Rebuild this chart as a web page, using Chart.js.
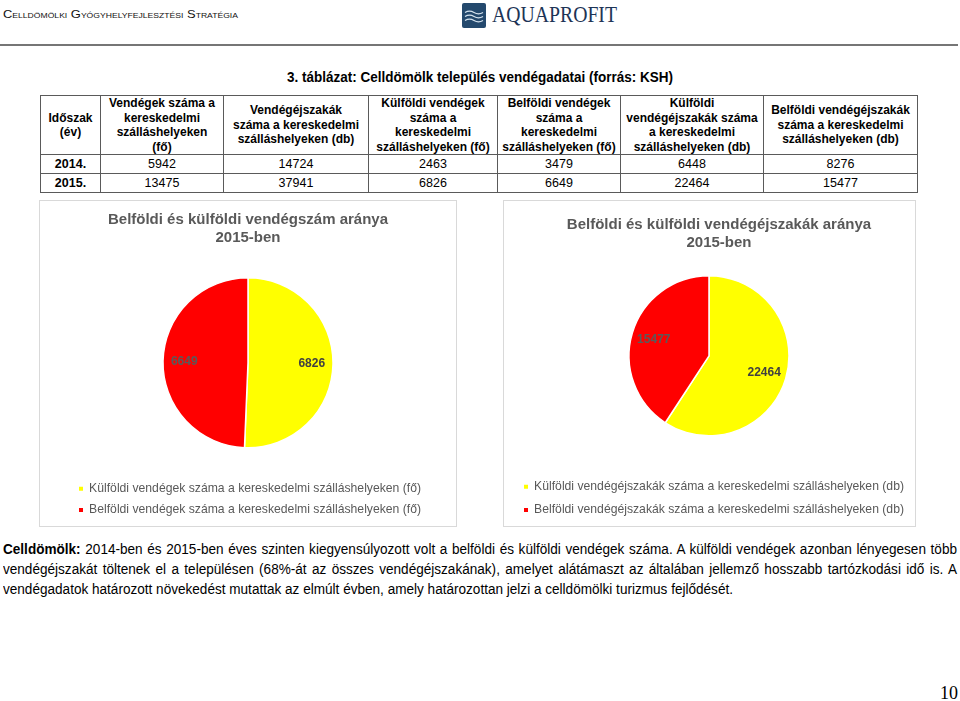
<!DOCTYPE html>
<html lang="hu">
<head>
<meta charset="utf-8">
<title>Celldömölk vendégadatai</title>
<script src="https://cdn.jsdelivr.net/npm/chart.js@4.4.1/dist/chart.umd.min.js"></script>
<style>
html,body{margin:0;padding:0;background:#fff}
body{width:960px;height:701px;position:relative;overflow:hidden;font-family:"Liberation Sans",Arial,sans-serif;color:#000}
.abs{position:absolute;white-space:nowrap;transform-origin:0 50%}
#hdr{left:3px;top:7px;font-size:10.5px;font-variant:small-caps;line-height:14px;color:#111}
#logo{position:absolute;left:462px;top:3px}
#brand{left:492px;top:2px;font-family:"Liberation Serif",serif;font-size:23px;line-height:26px;color:#1d3456}
#rule{position:absolute;left:0;top:44px;width:958px;height:2px;background:#767676}
#ttl{left:287px;top:68px;font-weight:bold;font-size:15px;line-height:18px}
#tbl{position:absolute;left:40px;top:95px;border-collapse:collapse;table-layout:fixed}
#tbl td,#tbl th{border:1px solid #5a5a5a;padding:0;text-align:center;vertical-align:middle;overflow:hidden}
#tbl th{font-size:12px;line-height:14.6px;font-weight:bold;height:56px}
#tbl td{font-size:12.5px;line-height:14px;height:18px}
#tbl td.y{font-weight:bold;font-size:12.5px}
.box{position:absolute;top:200px;border:1px solid #d9d9d9;height:325px}
.box canvas{display:block}
.pl{position:absolute;left:3px;font-size:14px;line-height:18px;white-space:nowrap;transform-origin:0 50%}
#pg{left:940px;top:683px;font-family:"Liberation Serif",serif;font-size:18px;line-height:20px}
</style>
</head>
<body>
<div id="hdr" class="abs fit" data-w="235">Celldömölki Gyógyhelyfejlesztési Stratégia</div>
<svg id="logo" width="24" height="25" viewBox="0 0 24 25">
  <rect x="0" y="0" width="24" height="25" rx="2" fill="#24496d"/>
  <path d="M3 9.5 q4.5 -2.6 9 0 t9 0" stroke="#d6e4ef" fill="none" stroke-width="1.2"/>
  <path d="M3 13.5 q4.5 -2.6 9 0 t9 0" stroke="#d6e4ef" fill="none" stroke-width="1.2"/>
  <path d="M3 17.5 q4.5 -2.6 9 0 t9 0" stroke="#d6e4ef" fill="none" stroke-width="1.2"/>
</svg>
<div id="brand" class="abs fit" data-w="125">AQUAPROFIT</div>
<div id="rule"></div>
<div id="ttl" class="abs fit" data-w="386">3. táblázat: Celldömölk település vendégadatai (forrás: KSH)</div>

<table id="tbl"></table>

<div class="box" id="b1" style="left:39px;width:416px"><canvas id="c1" width="416" height="325"></canvas></div>
<div class="box" id="b2" style="left:503px;width:411px"><canvas id="c2" width="411" height="325"></canvas></div>

<div class="pl" id="p1" style="top:540px"><b>Celldömölk:</b> 2014-ben és 2015-ben éves szinten kiegyensúlyozott volt a belföldi és külföldi vendégek száma. A külföldi vendégek azonban lényegesen több</div>
<div class="pl" id="p2" style="top:560px">vendégéjszakát töltenek el a településen (68%-át az összes vendégéjszakának), amelyet alátámaszt az általában jellemző hosszabb tartózkodási idő is. A</div>
<div class="pl" id="p3" style="top:580px">vendégadatok határozott növekedést mutattak az elmúlt évben, amely határozottan jelzi a celldömölki turizmus fejlődését.</div>
<div id="pg" class="abs">10</div>

<script>
// ---------- data ----------
const years = ['2014.', '2015.'];
const guests = [5942, 13475];
const nights = [14724, 37941];
const foreignGuests = [2463, 6826];
const domesticGuests = [3479, 6649];
const foreignNights = [6448, 22464];
const domesticNights = [8276, 15477];

const tableHeaders = [
  ['Időszak', '(év)'],
  ['Vendégek száma a', 'kereskedelmi', 'szálláshelyeken', '(fő)'],
  ['Vendégéjszakák', 'száma a kereskedelmi', 'szálláshelyeken (db)'],
  ['Külföldi vendégek', 'száma a', 'kereskedelmi', 'szálláshelyeken (fő)'],
  ['Belföldi vendégek', 'száma a', 'kereskedelmi', 'szálláshelyeken (fő)'],
  ['Külföldi', 'vendégéjszakák száma', 'a kereskedelmi', 'szálláshelyeken (db)'],
  ['Belföldi vendégéjszakák', 'száma a kereskedelmi', 'szálláshelyeken (db)']
];

const guestPieTitle = ['Belföldi és külföldi vendégszám aránya', '2015-ben'];
const guestPieLabels = ['Külföldi vendégek száma a kereskedelmi szálláshelyeken (fő)',
                        'Belföldi vendégek száma a kereskedelmi szálláshelyeken (fő)'];
const guestPieValues = [foreignGuests[1], domesticGuests[1]];

const nightPieTitle = ['Belföldi és külföldi vendégéjszakák aránya', '2015-ben'];
const nightPieLabels = ['Külföldi vendégéjszakák száma a kereskedelmi szálláshelyeken (db)',
                        'Belföldi vendégéjszakák száma a kereskedelmi szálláshelyeken (db)'];
const nightPieValues = [foreignNights[1], domesticNights[1]];

const sliceColors = ['#FFFF00', '#FF0000'];

// ---------- table ----------
(function buildTable() {
  const colW = [60, 123, 145, 129, 123, 143, 154];
  const t = document.getElementById('tbl');
  const cg = document.createElement('colgroup');
  colW.forEach(w => { const c = document.createElement('col'); c.style.width = w + 'px'; cg.appendChild(c); });
  t.appendChild(cg);
  const hr = document.createElement('tr');
  tableHeaders.forEach(lines => {
    const th = document.createElement('th');
    th.innerHTML = lines.join('<br>');
    hr.appendChild(th);
  });
  t.appendChild(hr);
  const cols = [guests, nights, foreignGuests, domesticGuests, foreignNights, domesticNights];
  years.forEach((y, i) => {
    const tr = document.createElement('tr');
    const td0 = document.createElement('td'); td0.className = 'y'; td0.textContent = y; tr.appendChild(td0);
    cols.forEach(arr => { const td = document.createElement('td'); td.textContent = arr[i]; tr.appendChild(td); });
    t.appendChild(tr);
  });
})();

// ---------- text fitting ----------
function natW(el) { return el.getBoundingClientRect().width; }
document.querySelectorAll('.fit').forEach(el => {
  const w = natW(el), target = +el.dataset.w;
  el.style.transform = 'scaleX(' + (target / w) + ')';
});
(function paragraph() {
  const p1 = document.getElementById('p1'), p2 = document.getElementById('p2'), p3 = document.getElementById('p3');
  const s = 730 / natW(p3);
  p3.style.transform = 'scaleX(' + s + ')';
  [p1, p2].forEach(p => {
    const n = natW(p);
    const si = Math.min(s, 954 / n);
    p.style.whiteSpace = 'normal';
    p.style.width = (954 / si) + 'px';
    p.style.textAlign = 'justify';
    p.style.textAlignLast = 'justify';
    p.style.transform = 'scaleX(' + si + ')';
  });
})();

// ---------- charts ----------
const FONT = '"Liberation Sans", Arial, sans-serif';
Chart.defaults.font.family = FONT;

const boxTitle = {
  id: 'boxTitle',
  afterDraw(chart, args, o) {
    const ctx = chart.ctx;
    ctx.save();
    ctx.font = 'bold 15px ' + FONT;
    ctx.fillStyle = o.color;
    ctx.textAlign = 'center';
    ctx.textBaseline = 'middle';
    o.lines.forEach((t, i) => ctx.fillText(t, o.x, o.y + i * o.lineHeight));
    ctx.restore();
  }
};

const sliceLabels = {
  id: 'sliceLabels',
  afterDatasetsDraw(chart, args, o) {
    const ctx = chart.ctx;
    const meta = chart.getDatasetMeta(0);
    const vals = chart.data.datasets[0].data;
    ctx.save();
    ctx.font = 'bold 12px ' + FONT;
    ctx.textAlign = 'center';
    ctx.textBaseline = 'middle';
    meta.data.forEach((arc, i) => {
      const p = arc.getProps(['x', 'y', 'startAngle', 'endAngle', 'outerRadius'], true);
      const a = (p.startAngle + p.endAngle) / 2;
      const r = p.outerRadius * o.pos;
      ctx.fillStyle = o.colors[i];
      ctx.fillText(String(vals[i]), p.x + Math.cos(a) * r, p.y + Math.sin(a) * r);
    });
    ctx.restore();
  }
};

function legendLabels(chart) {
  const items = Chart.overrides.pie.plugins.legend.labels.generateLabels(chart);
  items.forEach(it => { it.lineWidth = 0; it.strokeStyle = it.fillStyle; });
  return items;
}

function makePie(id, labels, values, title, cfg) {
  return new Chart(document.getElementById(id), {
    type: 'pie',
    data: {
      labels: labels,
      datasets: [{ data: values, backgroundColor: sliceColors, borderColor: '#ffffff', borderWidth: 1.5, radius: cfg.radius }]
    },
    options: {
      responsive: false,
      animation: false,
      events: [],
      layout: { padding: cfg.padding },
      plugins: {
        tooltip: { enabled: false },
        title: { display: false },
        legend: {
          position: 'bottom',
          align: 'start',
          labels: {
            usePointStyle: true, pointStyle: 'rect', boxWidth: 4, boxHeight: 4,
            padding: cfg.legendPad, color: '#595959',
            font: { size: 12.2, family: FONT },
            generateLabels: legendLabels
          }
        },
        boxTitle: { lines: title, x: cfg.titleX, y: cfg.titleY, lineHeight: 18, color: '#595959' },
        sliceLabels: { pos: cfg.labelPos, colors: ['#404040', '#5a5a5a'] }
      }
    },
    plugins: [boxTitle, sliceLabels]
  });
}

makePie('c1', guestPieLabels, guestPieValues, guestPieTitle, {
  radius: 85, padding: { top: 51, left: 30, right: 30, bottom: 0 }, legendPad: 9,
  titleX: 208, titleY: 19, labelPos: 0.75
});
makePie('c2', nightPieLabels, nightPieValues, nightPieTitle, {
  radius: 80, padding: { top: 41, left: 9, right: 10, bottom: 0 }, legendPad: 11,
  titleX: 215, titleY: 24, labelPos: 0.72
});
</script>
</body>
</html>
